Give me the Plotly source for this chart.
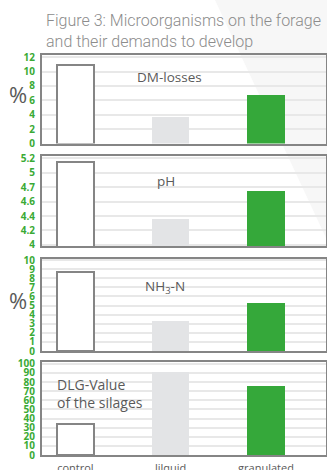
import plotly.graph_objects as go

# Treatment groups (x categories)
groups = ["control", "lilquid", "granulated"]

# Panel values per treatment
dm_losses = [10.9, 3.7, 6.7]          # %
ph_values = [5.15, 4.36, 4.74]
nh3_n = [8.65, 3.3, 5.25]             # %
dlg_value = [34.5, 91.5, 75.5]

# Y tick labels per panel
dm_ticks = [0, 2, 4, 6, 8, 10, 12]
ph_tickvals = [4.0, 4.2, 4.4, 4.6, 4.8, 5.0, 5.2]
ph_ticktext = ["4", "4.2", "4.4", "4.6", "4.7", "5", "5.2"]
nh3_ticks = list(range(0, 11))
dlg_ticks = list(range(0, 101, 10))

W, H = 327, 470
GREEN = "#35a83a"
LIGHT = "#e3e4e6"
FRAME = "#858585"
TEXT = "#5a5a5a"
TICK_GREEN = "#3aaa35"

bar_colors = ["#ffffff", LIGHT, GREEN]
bar_line_w = [2, 0, 0]

# frame positions in pixels (top, bottom)
frames = [(55, 143.5), (156, 246), (259, 351), (362, 455)]
x0_px, x1_px = 42, 326

def ydom(top, bottom):
    return [1 - bottom / H, 1 - top / H]

panels = [
    dict(vals=dm_losses, rng=[0, 12.3], tv=dm_ticks, tt=[str(t) for t in dm_ticks]),
    dict(vals=ph_values, rng=[3.985, 5.23], tv=ph_tickvals, tt=ph_ticktext),
    dict(vals=nh3_n, rng=[0, 10.12], tv=nh3_ticks, tt=[str(t) for t in nh3_ticks]),
    dict(vals=dlg_value, rng=[0, 102], tv=dlg_ticks, tt=[str(t) for t in dlg_ticks]),
]

fig = go.Figure()
layout = {}
for i, p in enumerate(panels):
    n = "" if i == 0 else str(i + 1)
    fig.add_trace(go.Bar(
        x=groups, y=p["vals"], width=0.39,
        marker=dict(color=bar_colors, line=dict(color=FRAME, width=bar_line_w)),
        xaxis="x" + n, yaxis="y" + n, showlegend=False, hoverinfo="skip",
    ))
    layout["xaxis" + n] = dict(
        domain=[x0_px / W, x1_px / W], anchor="y" + n,
        type="category", range=[-0.35, 2.63], automargin=False,
        showline=True, linecolor=FRAME, linewidth=2, mirror=True,
        showgrid=False, ticks="", zeroline=False,
        showticklabels=(i == 3), ticklabelstandoff=2,
        tickfont=dict(family="Open Sans", size=11, color=TEXT),
    )
    layout["yaxis" + n] = dict(
        domain=ydom(*frames[i]), anchor="x" + n, range=p["rng"], automargin=False,
        tickvals=p["tv"], ticktext=p["tt"],
        showline=True, linecolor=FRAME, linewidth=2, mirror=True,
        showgrid=True, gridcolor="#e8e8e8", gridwidth=1.5,
        zeroline=False, ticks="", ticklabelstandoff=3,
        tickfont=dict(family="Open Sans", size=10, color=TICK_GREEN, weight=700),
    )

fig.update_layout(
    width=W, height=H,
    margin=dict(l=0, r=0, t=0, b=0),
    paper_bgcolor="#ffffff", plot_bgcolor="rgba(0,0,0,0)",
    bargap=0, **layout,
)

# faint diagonal backdrop band
fig.add_shape(type="path", xref="paper", yref="paper", layer="below",
              path=f"M {215/W} 1 L 1 1 L 1 {1-240/H} Z",
              fillcolor="#f7f7f7", line=dict(width=0))

def px(x, y):
    return x / W, 1 - y / H

ann = []
tx, ty = px(44, 9)
ann.append(dict(x=tx, y=ty, xref="paper", yref="paper", xanchor="left", yanchor="top",
                align="left", showarrow=False,
                text="Figure 3: Microorganisms on the forage<br>and their demands to develop",
                font=dict(family="Roboto", size=16, color="#8c8c8c", weight=300)))

labels = [
    ("DM-losses", 170, 77, 13.5),
    ("pH", 166, 181, 13.5),
    ("NH<sub>3</sub>-N", 165, 287, 13.5),
]
for t, x, y, s in labels:
    ax, ay = px(x, y)
    ann.append(dict(x=ax, y=ay, xref="paper", yref="paper", showarrow=False,
                    xanchor="center", yanchor="middle",
                    text=t, font=dict(family="Open Sans", size=s, color=TEXT)))

ax, ay = px(55, 393)
ann.append(dict(x=ax, y=ay, xref="paper", yref="paper", xanchor="left", yanchor="middle",
                showarrow=False, align="left", text="DLG-Value<br>of the silages",
                font=dict(family="Open Sans", size=14, color=TEXT)))

for y in (94, 300):
    ax, ay = px(18, y)
    ann.append(dict(x=ax, y=ay, xref="paper", yref="paper", showarrow=False,
                    xanchor="center", yanchor="middle",
                    text="%", font=dict(family="Open Sans", size=22, color=TEXT)))

fig.update_layout(annotations=ann)
fig.write_html("out.html")
